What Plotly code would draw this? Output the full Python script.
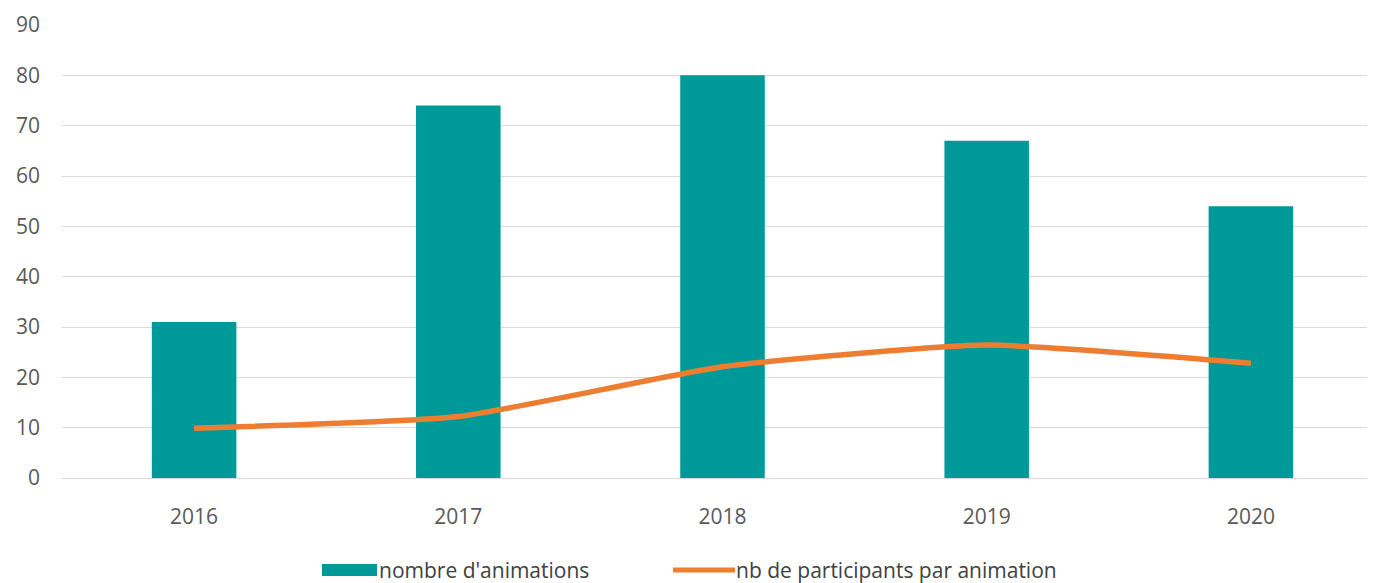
import plotly.graph_objects as go

years = ["2016", "2017", "2018", "2019", "2020"]
nombre_animations = [31, 74, 80, 67, 54]
participants_par_animation = [9.9, 12.2, 22.1, 26.4, 22.8]
legend_labels = ["nombre d'animations", "nb de participants par animation"]

TEAL = "#009999"
ORANGE = "#ED7D31"

fig = go.Figure()
fig.add_trace(go.Bar(
    x=years, y=nombre_animations, name=legend_labels[0],
    marker=dict(color=TEAL, line=dict(width=0)), showlegend=False,
))
fig.add_trace(go.Scatter(
    x=years, y=participants_par_animation, name=legend_labels[1],
    mode="lines", line=dict(color=ORANGE, width=5.5, shape="spline", smoothing=0.5),
    showlegend=False,
))

# plot area geometry (div px): left 54, width 1321, top 17, bottom 470
L, W, B, H = 54, 1321, 470, 453
def px(x):
    return (x - L) / W
def py(y):
    return (B - y) / H

leg_y = 562
fig.add_shape(type="rect", xref="paper", yref="paper",
              x0=px(314), x1=px(369), y0=py(leg_y + 6), y1=py(leg_y - 6),
              fillcolor=TEAL, line=dict(width=0))
fig.add_shape(type="line", xref="paper", yref="paper",
              x0=px(665), x1=px(727), y0=py(leg_y), y1=py(leg_y),
              line=dict(color=ORANGE, width=5))
fig.add_annotation(xref="paper", yref="paper", x=px(369), y=py(leg_y),
                   xanchor="left", yanchor="middle", showarrow=False,
                   text=legend_labels[0],
                   font=dict(size=21, color="#404040", family="Open Sans, sans-serif"))
fig.add_annotation(xref="paper", yref="paper", x=px(726), y=py(leg_y),
                   xanchor="left", yanchor="middle", showarrow=False,
                   text=legend_labels[1],
                   font=dict(size=21, color="#404040", family="Open Sans, sans-serif"))

fig.update_layout(
    width=1375, height=583,
    margin=dict(l=L, r=0, t=17, b=583 - B, autoexpand=False),
    paper_bgcolor="white", plot_bgcolor="white",
    bargap=0.68,
    font=dict(family="Open Sans, DejaVu Sans, sans-serif", color="#595959", size=21),
    showlegend=False,
)
fig.update_xaxes(showgrid=False, showline=False, ticks="", automargin=False,
                 tickfont=dict(size=21, color="#595959"), ticklabelstandoff=24)
fig.update_yaxes(range=[0, 90], dtick=10, showgrid=True, gridcolor="#D9D9D9", gridwidth=1.3,
                 zeroline=True, zerolinecolor="#D9D9D9", zerolinewidth=1.3, automargin=False,
                 tickfont=dict(size=21, color="#595959"), ticklabelstandoff=21)

fig.write_html("out.html")
